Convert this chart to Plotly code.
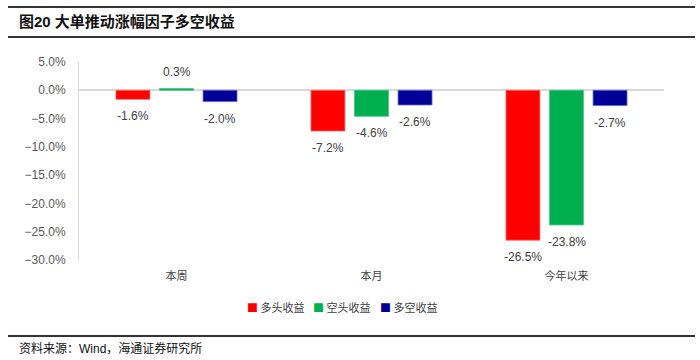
import plotly.graph_objects as go

categories = ["本周", "本月", "今年以来"]
long_ret = [-0.016, -0.072, -0.265]
short_ret = [0.003, -0.046, -0.238]
ls_ret = [-0.020, -0.026, -0.027]
series_names = ["多头收益", "空头收益", "多空收益"]
colors = ["#FF0000", "#00B050", "#000099"]
line_colors = ["#FF6666", "#40C880", "#6666CC"]

W, H = 700, 360
L, R, T, B = 79, 36, 62, 100
pw, ph = W - L - R, H - T - B
BARGAP, GROUPGAP = 0.33, 0.22

def px(x):
    return (x - L) / pw

def py(y):
    return (H - B - y) / ph

fig = go.Figure()
all_series = [long_ret, short_ret, ls_ret]
for name, vals, c, lc in zip(series_names, all_series, colors, line_colors):
    fig.add_trace(go.Bar(
        x=categories, y=vals, name=name,
        marker=dict(color=c, line=dict(color=lc, width=0.8)),
        showlegend=False,
    ))

for yy in [7, 37, 336]:
    fig.add_shape(type="line", xref="paper", yref="paper",
                  x0=px(8), x1=px(695), y0=py(yy), y1=py(yy),
                  line=dict(color="#333333", width=2))

band = pw / len(categories)
slot = band * (1 - BARGAP) / len(all_series)
for i, vals in enumerate(all_series):
    shift = (i - (len(all_series) - 1) / 2) * slot
    for cat, v in zip(categories, vals):
        fig.add_annotation(
            x=cat, y=v, xref="x", yref="y", text=f"{v*100:.1f}%", showarrow=False,
            xshift=shift, yshift=(-8 if v < 0 else 8),
            yanchor=("top" if v < 0 else "bottom"),
            font=dict(family="Liberation Sans, Arial", size=12, color="#404040"),
        )

cjk = "Liberation Sans, Noto Sans CJK SC"
fig.update_layout(
    width=W, height=H,
    margin=dict(l=L, r=R, t=T, b=B),
    paper_bgcolor="white", plot_bgcolor="white",
    barmode="group", bargap=BARGAP, bargroupgap=GROUPGAP,
    showlegend=False,
    xaxis=dict(showline=False, showgrid=False, ticks="", zeroline=False,
               tickfont=dict(family="Noto Sans CJK SC", size=11, color="#404040"),
               ticklabelstandoff=8),
    yaxis=dict(range=[-0.30, 0.05], dtick=0.05, tickformat=".1%",
               showgrid=False, showline=True, linecolor="#D9D9D9", linewidth=1,
               zeroline=True, zerolinecolor="#D9D9D9", zerolinewidth=1.5,
               ticks="", ticklabelstandoff=10,
               tickfont=dict(family="Liberation Sans, Arial", size=12, color="#595959")),
)

legend_x = [247, 313, 380]
for name, c, lx in zip(series_names, colors, legend_x):
    fig.add_annotation(
        text=f"<span style='color:{c}'>■</span> {name}", xref="paper", yref="paper",
        x=px(lx - 2), y=py(307), xanchor="left", yanchor="middle", showarrow=False,
        font=dict(family="Noto Sans CJK SC", size=11, color="#404040"),
    )

fig.add_annotation(text="<b>图20 大单推动涨幅因子多空收益</b>", xref="paper", yref="paper",
                   x=px(17), y=py(21), xanchor="left", yanchor="middle", showarrow=False,
                   font=dict(family=cjk, size=15, color="#111111"))
fig.add_annotation(text="资料来源：Wind，海通证券研究所", xref="paper", yref="paper",
                   x=px(17), y=py(348), xanchor="left", yanchor="middle", showarrow=False,
                   font=dict(family=cjk, size=12, color="#111111"))

fig.write_html("out.html", config={"displayModeBar": False},
               post_script="document.body.style.margin='0px';")
